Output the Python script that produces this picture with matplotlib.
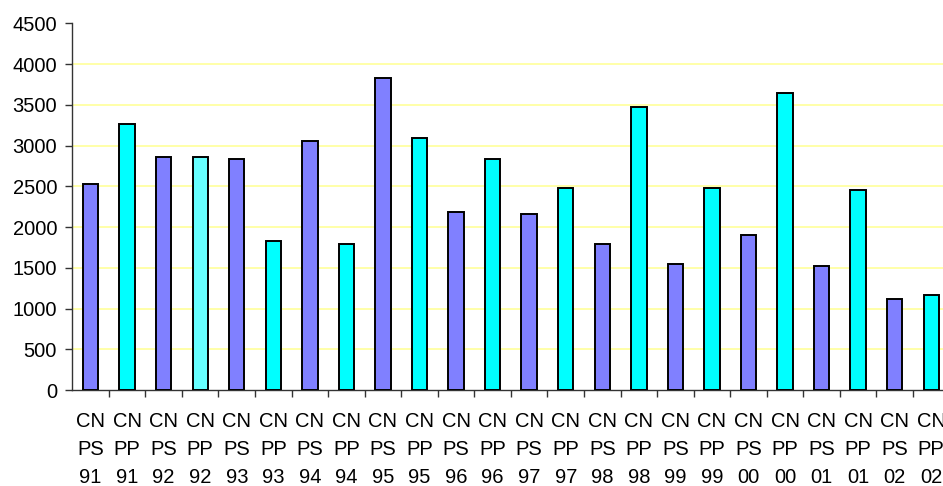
import matplotlib
matplotlib.use("Agg")
import matplotlib.pyplot as plt

# Series codes and years for each bar
series = ["CNPS", "CNPP"] * 12
years = ["91", "91", "92", "92", "93", "93", "94", "94", "95", "95", "96", "96",
         "97", "97", "98", "98", "99", "99", "00", "00", "01", "01", "02", "02"]
values = [2525, 3265, 2860, 2855, 2835, 1830, 3050, 1790, 3830, 3090, 2190, 2830,
          2165, 2475, 1790, 3475, 1545, 2475, 1900, 3640, 1520, 2450, 1115, 1165]

colour_map = {"CNPS": "#8080FF", "CNPP": "#00FFFF"}
colours = [colour_map[s] for s in series]
colours[3] = "#66FFFF"

labels = [f"{s[:2]}\n{s[2:]}\n{y}" for s, y in zip(series, years)]

plt.rcParams["font.family"] = ["Liberation Sans", "DejaVu Sans"]

W, H = 943, 486
fig = plt.figure(figsize=(W / 100, H / 100), dpi=100)
left, right, bottom, top = 72.3, 949.5, 390.0, 23.3
ax = fig.add_axes([left / W, (H - bottom) / H, (right - left) / W, (bottom - top) / H])

x = list(range(len(values)))
ax.bar(x, values, width=0.42, color=colours, edgecolor="black", linewidth=1.4, zorder=3)

ax.set_xlim(-0.5, len(values) - 0.5)
ax.set_ylim(0, 4500)
ax.set_yticks(range(0, 4501, 500))
ax.tick_params(axis="y", labelsize=14.5, length=5, width=1, pad=6, color="#333333")

ax.set_xticks(x)
ax.set_xticklabels(labels, fontsize=14.5, linespacing=1.6)
ax.tick_params(axis="x", which="major", length=0, pad=16)
ax.set_xticks([i + 0.5 for i in range(len(values))], minor=True)
ax.tick_params(axis="x", which="minor", length=5, width=1, color="#333333")

ax.yaxis.grid(True, color="#FFFF99", linewidth=1.2, zorder=0)
ax.set_axisbelow(True)
grid = ax.get_ygridlines()
grid[0].set_visible(False)
grid[-1].set_visible(False)

for side in ("top", "right"):
    ax.spines[side].set_visible(False)
for side in ("left", "bottom"):
    ax.spines[side].set_color("#333333")
    ax.spines[side].set_linewidth(1)

fig.savefig("out.png", dpi=100)
